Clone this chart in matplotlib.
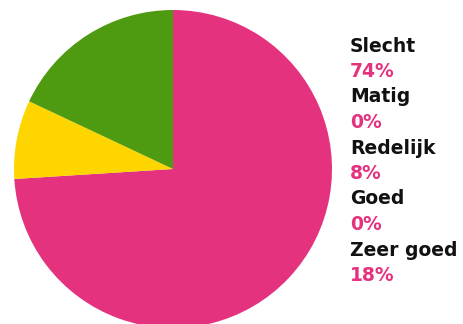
import matplotlib.pyplot as plt

labels = ["Slecht", "Matig", "Redelijk", "Goed", "Zeer goed"]
values = [74, 0, 8, 0, 18]
colors = ["#E5327F", "#F08A00", "#FFD500", "#8CC63F", "#4E9A10"]

fig = plt.figure(figsize=(4.63, 3.24), dpi=100)

ax = fig.add_axes([14 / 463, -4 / 324, 318 / 463, 318 / 324])
ax.pie(values, colors=colors, startangle=90, counterclock=False, radius=1)
ax.set_xlim(-1, 1)
ax.set_ylim(-1, 1)
ax.axis("off")

# legend text on the right
y0 = 46
step = 25.5
for i, (lab, val) in enumerate(zip(labels, values)):
    y1 = y0 + 2 * i * step
    y2 = y1 + step
    fig.text(350 / 463, 1 - y1 / 324, lab, fontsize=13.5, fontweight="bold",
             color="#111111", va="center", ha="left", family="DejaVu Sans")
    fig.text(350 / 463, 1 - y2 / 324, f"{val}%", fontsize=13.5, fontweight="bold",
             color="#E5327F", va="center", ha="left", family="DejaVu Sans")

fig.savefig("out.png", dpi=100)
